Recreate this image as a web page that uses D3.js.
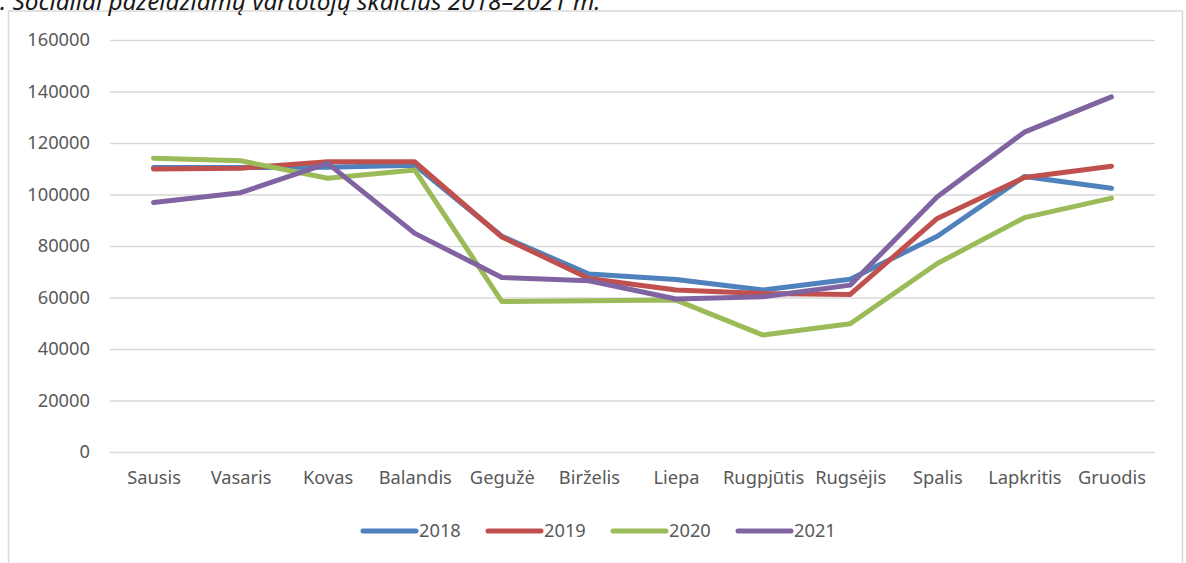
<!DOCTYPE html>
<html>
<head>
<meta charset="utf-8">
<script src="https://cdn.jsdelivr.net/npm/d3@7"></script>
<style>
  body { margin: 0; background: #fff; }
  svg { display: block; font-family: "Noto Sans", sans-serif; }
</style>
</head>
<body>
<div class="graph"></div>
<script>
const months = ['Sausis', 'Vasaris', 'Kovas', 'Balandis', 'Gegužė', 'Birželis', 'Liepa', 'Rugpjūtis', 'Rugsėjis', 'Spalis', 'Lapkritis', 'Gruodis'];
const years = ['2018', '2019', '2020', '2021'];
const v2018 = [110500, 110500, 110600, 111400, 83800, 69100, 67000, 62900, 67100, 83800, 107000, 102400];
const v2019 = [109900, 110200, 112700, 112700, 83500, 67400, 62900, 61600, 61200, 90700, 106600, 111000];
const v2020 = [114100, 113100, 106300, 109500, 58400, 58700, 59000, 45400, 49800, 73200, 91000, 98600];
const v2021 = [96900, 100700, 112100, 84900, 67800, 66500, 59400, 60300, 64800, 99100, 124200, 137900];
const yTicks = [0, 20000, 40000, 60000, 80000, 100000, 120000, 140000, 160000];
const colors = ['#4F81BD', '#C0504D', '#9BBB59', '#8064A2'];
const titleText = '. Socialiai pažeidžiamų vartotojų skaičius 2018–2021 m.';

function drawChart() {
  const w = 1186;
  const h = 563;
  const plot = { left: 110, right: 1155, top: 40, bottom: 452 };
  const series = [v2018, v2019, v2020, v2021];
  const labelSize = 18.3;

  const svg = d3.select('.graph')
    .append('svg')
    .attr('width', w)
    .attr('height', h);

  // chart frame
  svg.append('rect')
    .attr('x', 8.5)
    .attr('y', 11)
    .attr('width', 1174)
    .attr('height', 580)
    .attr('fill', 'none')
    .attr('stroke', '#D9D9D9')
    .attr('stroke-width', 1.5);

  // title, its top is cut by the page edge like in the source
  svg.append('text')
    .attr('x', 0)
    .attr('y', 9.5)
    .attr('font-style', 'italic')
    .attr('font-size', 24.3)
    .attr('fill', '#1a1a1a')
    .text(titleText);

  const xScale = d3.scalePoint()
    .domain(months)
    .range([plot.left, plot.right])
    .padding(0.5);

  const yScale = d3.scaleLinear()
    .domain([0, 160000])
    .range([plot.bottom, plot.top]);

  // gridlines + y labels
  svg.append('g')
    .attr('transform', `translate(${plot.left}, 0)`)
    .call(d3.axisLeft(yScale)
      .tickValues(yTicks)
      .tickSize(-(plot.right - plot.left))
      .tickPadding(20)
      .tickFormat((d) => d))
    .call((g) => g.select('.domain').remove())
    .call((g) => g.selectAll('.tick line').attr('stroke', '#D9D9D9').attr('stroke-width', 1.3))
    .call((g) => g.selectAll('.tick text')
      .attr('fill', '#595959')
      .attr('font-size', labelSize)
      .attr('font-family', '"Noto Sans", sans-serif'));

  // x labels
  svg.append('g')
    .attr('transform', `translate(0, ${plot.bottom})`)
    .call(d3.axisBottom(xScale).tickSize(0).tickPadding(19))
    .call((g) => g.select('.domain').remove())
    .call((g) => g.selectAll('.tick text')
      .attr('fill', '#595959')
      .attr('font-size', labelSize)
      .attr('font-family', '"Noto Sans", sans-serif'));

  const line = d3.line()
    .x((d, i) => xScale(months[i]))
    .y((d) => yScale(d));

  svg.append('g')
    .selectAll('path')
    .data(series)
    .join('path')
    .attr('d', line)
    .attr('fill', 'none')
    .attr('stroke', (d, i) => colors[i])
    .attr('stroke-width', 5)
    .attr('stroke-linecap', 'round')
    .attr('stroke-linejoin', 'round');

  // legend
  const legend = svg.append('g')
    .selectAll('g')
    .data(years)
    .join('g')
    .attr('transform', (d, i) => `translate(${363 + i * 125}, 531)`);

  legend.append('line')
    .attr('x1', 0)
    .attr('x2', 53)
    .attr('stroke', (d, i) => colors[i])
    .attr('stroke-width', 5)
    .attr('stroke-linecap', 'round');

  legend.append('text')
    .attr('x', 56)
    .attr('dy', '0.35em')
    .attr('fill', '#595959')
    .attr('font-size', labelSize)
    .text((d) => d);
}

drawChart();
</script>
</body>
</html>
